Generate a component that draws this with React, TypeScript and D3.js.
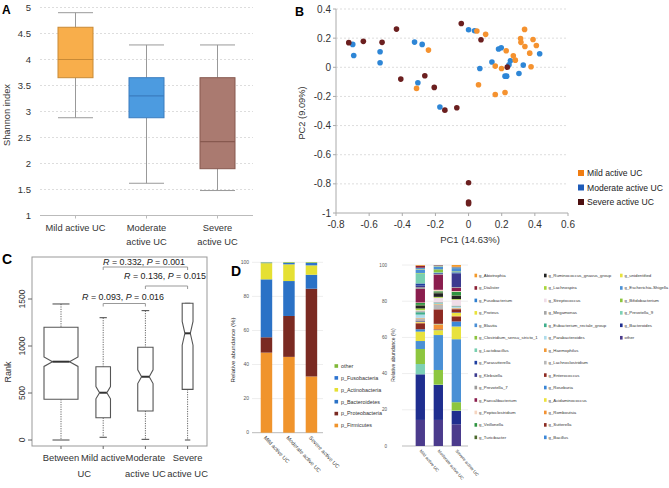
import React from 'react';
import * as d3 from 'd3';

const W = 669;
const H = 488;
const FONT = "'Liberation Sans', Arial, sans-serif";

// ---------- A: Shannon index ----------
const shannonGroups = ['Mild active UC', 'Moderate active UC', 'Severe active UC'];
const shannonLabels = [['Mild active UC'], ['Moderate', 'active UC'], ['Severe', 'active UC']];
const shannonMin = [2.88, 1.62, 1.48];
const shannonQ1 = [3.65, 2.88, 1.9];
const shannonMedian = [4.0, 3.3, 2.42];
const shannonQ3 = [4.62, 3.65, 3.65];
const shannonMax = [4.9, 4.28, 4.28];
const shannonTicks = [1, 1.5, 2, 2.5, 3, 3.5, 4, 4.5, 5];
const shannonFill = ['#F8AE4B', '#4C9BE0', '#AA7A70'];
const shannonStroke = ['#C98A35', '#3A7DBF', '#87594F'];

// ---------- B: PCA ----------
const pcaGroups = ['Mild active UC', 'Moderate active UC', 'Severe active UC'];
const pcaMild = [
  [0.05, 0.249], [0.103, 0.226], [-0.242, 0.118], [-0.314, -0.145], [0.06, -0.12],
  [0.161, -0.187], [0.22, -0.173], [0.161, 0.008], [0.199, -0.008], [0.227, 0.113],
  [0.27, 0.079], [0.282, 0.049], [0.314, 0.198], [0.316, 0.171], [0.338, 0.26],
  [0.34, 0.143], [0.369, 0.097], [0.389, 0.191], [0.409, 0.15], [0.377, 0.004],
];
const pcaModerate = [
  [-0.699, 0.157], [-0.693, 0.081], [-0.534, 0.107], [-0.534, 0.031], [-0.326, 0.173],
  [-0.28, 0.157], [-0.306, -0.106], [-0.173, -0.273], [0, 0.258], [0.036, 0.251],
  [0.068, -0.008], [0.141, 0.036], [0.181, 0.125], [0.197, 0.134], [0.22, -0.061],
  [0.23, -0.061], [0.244, 0.017], [0.252, 0.045], [0.304, -0.043], [0.33, 0.015],
  [0.429, 0.093],
];
const pcaSevere = [
  [-0.723, 0.169], [-0.635, 0.178], [-0.522, 0.171], [-0.435, 0.262], [-0.409, -0.081],
  [-0.264, -0.058], [-0.207, -0.138], [-0.143, -0.294], [-0.071, -0.278], [-0.044, 0.301],
  [0.075, 0.189], [0.234, 0.001], [0, -0.792], [0, -0.924], [0, -0.936],
];
const pcaXTicks = [-0.8, -0.6, -0.4, -0.2, 0, 0.2, 0.4, 0.6];
const pcaYTicks = [0.4, 0.2, 0, -0.2, -0.4, -0.6, -0.8, -1];
const pcaPointColors = ['#F5922F', '#2E86D6', '#6B1F1F'];
const pcaLegendColors = ['#F07D12', '#1E5BB8', '#4D1010'];

// ---------- C: ANOSIM rank ----------
const rankGroups = ['Between', 'Mild active UC', 'Moderate active UC', 'Severe active UC'];
const rankLabels = [['Between'], ['Mild active', 'UC'], ['Moderate', 'active UC'], ['Severe', 'active UC']];
const rankPairs = [1035, 190, 210, 105];
const rankMin = [0, 29, 7, 0];
const rankQ1 = [433, 237, 309, 539];
const rankMedian = [833, 503, 673, 1135];
const rankQ3 = [1199, 780, 986, 1454];
const rankMax = [1447, 1301, 1376, 1454];
const rankNotch = [50, 65, 73, 127];
const rankTicks = [0, 500, 1000, 1500];
const bracketFrom = [1, 2, 1];
const bracketTo = [2, 3, 3];
const bracketR = ['0.093', '0.136', '0.332'];
const bracketP = ['0.016', '0.015', '0.001'];

// ---------- D left: phylum ----------
const dGroups = ['Mild active UC', 'Moderate active UC', 'Severe active UC'];
const phylumNames = ['other', 'p_Fusobacteria', 'p_Actinobacteria', 'p_Bacteroidetes', 'p_Proteobacteria', 'p_Firmicutes'];
const phylumColors = ['#80B838', '#2E74D0', '#E5E033', '#2B72C6', '#7A2A22', '#F0942C'];
const phylumMild = [0.2, 0.3, 9.5, 34, 9, 47];
const phylumModerate = [0.4, 0.8, 9.8, 20.5, 24, 44.5];
const phylumSevere = [0.4, 1.4, 5.5, 8.2, 51.5, 33];
const pctTicks = [0, 20, 40, 60, 80, 100];

// ---------- D right: genus ----------
const genusNames = [
  'g_Abiotrophia', 'g_Dialister', 'g_Fusobacterium', 'g_Proteus', 'g_Blautia',
  'g_Clostridium_sensu_stricto_1', 'g_Lactobacillus', 'g_Parasutterella', 'g_Klebsiella', 'g_Prevotella_7',
  'g_Faecalibacterium', 'g_Peptoclostridium', 'g_Veillonella', 'g_Turicibacter',
  'g_Ruminococcus_gnavus_group', 'g_Lachnospira', 'g_Streptococcus', 'g_Megamonas', 'g_Eubacterium_rectale_group',
  'g_Parabacteroides', 'g_Haemophilus', 'g_Lachnoclostridium', 'g_Enterococcus', 'g_Roseburia',
  'g_Acidaminococcus', 'g_Romboutsia', 'g_Sutterella', 'g_Bacillus',
  'g_unidentified', 'g_Escherichia-Shigella', 'g_Bifidobacterium', 'g_Prevotella_9', 'g_Bacteroides', 'other',
];
const genusColors = [
  '#F39A2B', '#8B2035', '#2F7FD0', '#E9E23A', '#4A8FD6',
  '#8CC43F', '#78CFB0', '#1E3FA0', '#3B3A8F', '#9A9A9A',
  '#8A1E4E', '#F6D5C0', '#2E9440', '#4D6A2E',
  '#222222', '#A8D63A', '#F0DDE8', '#A5A5A5', '#3FAE8C',
  '#AEDCEB', '#F29A38', '#B8B8B8', '#8E2A22', '#3A86D6',
  '#EDE33E', '#F39233', '#8B2B22', '#3D88D8',
  '#E8E23E', '#4A90D5', '#8DC63F', '#7DD0B5', '#1F2E8F', '#4B3B8C',
];
const genusMild = [
  0.4, 1.1, 0.6, 0.3, 2.0, 0.3, 5.5, 1.2, 0.8, 1.0, 7.5, 0.3, 1.0, 0.5,
  1.5, 1.0, 0.5, 0.6, 1.3, 1.8, 0.3, 1.2, 0.4, 0.4, 0.3, 0.4, 3.3, 1.3,
  5.2, 4.4, 8.3, 5.7, 25.2, 14.4,
];
const genusModerate = [
  0.1, 0.2, 0.3, 0.2, 1.6, 1.6, 0.4, 0.3, 0.3, 0.3, 8.4, 0.8, 0.6, 0.5,
  2.0, 0.5, 2.4, 0.4, 0.3, 0.4, 0.3, 2.6, 8.0, 0.2, 0.2, 2.6, 0.3, 0.2,
  2.7, 19.3, 8.1, 0.2, 19.3, 14.4,
];
const genusSevere = [
  1.0, 0.2, 0.3, 0.2, 1.8, 0.3, 0.3, 0.6, 7.5, 0.4, 1.8, 0.4, 1.9, 0.3,
  1.8, 0.4, 3.2, 0.5, 0.3, 0.5, 0.3, 0.4, 1.8, 0.3, 1.6, 0.3, 2.8, 2.8,
  7.0, 34.8, 4.6, 0.2, 7.4, 12.0,
];
const genusLegendColumns = [14, 14, 6];

function PanelA() {
  const y = d3.scaleLinear().domain([1, 5]).range([215.5, 7.5]);
  const x = d3.scaleBand().domain(shannonGroups).range([40, 253]);
  const bw = 35;
  return (
    <g>
      <text x={2} y={13.5} fontSize={12} fontWeight="bold">A</text>
      {shannonTicks.slice(1).map((t) => (
        <line key={t} x1={40} x2={253} y1={y(t)} y2={y(t)} stroke="#ddd" strokeDasharray="2,2" />
      ))}
      <line x1={40} x2={253} y1={y(1)} y2={y(1)} stroke="#bbb" />
      {shannonTicks.map((t) => (
        <text key={t} x={31} y={y(t)} dy="0.35em" textAnchor="end" fontSize={9.5} fill="#333">{t}</text>
      ))}
      <text transform={`translate(10,115) rotate(-90)`} textAnchor="middle" fontSize={9.3} fill="#333">Shannon index</text>
      {shannonGroups.map((g, i) => {
        const cx = (x(g) as number) + x.bandwidth() / 2;
        return (
          <g key={g}>
            <line x1={cx} x2={cx} y1={y(1)} y2={y(1) + 3} stroke="#bbb" />
            <line x1={cx} x2={cx} y1={y(shannonMax[i])} y2={y(shannonQ3[i])} stroke="#999" />
            <line x1={cx} x2={cx} y1={y(shannonQ1[i])} y2={y(shannonMin[i])} stroke="#999" />
            <line x1={cx - bw / 2} x2={cx + bw / 2} y1={y(shannonMax[i])} y2={y(shannonMax[i])} stroke="#999" />
            <line x1={cx - bw / 2} x2={cx + bw / 2} y1={y(shannonMin[i])} y2={y(shannonMin[i])} stroke="#999" />
            <rect x={cx - bw / 2} y={y(shannonQ3[i])} width={bw} height={y(shannonQ1[i]) - y(shannonQ3[i])}
              fill={shannonFill[i]} stroke={shannonStroke[i]} />
            <line x1={cx - bw / 2} x2={cx + bw / 2} y1={y(shannonMedian[i])} y2={y(shannonMedian[i])} stroke={shannonStroke[i]} strokeWidth={1.2} />
            {shannonLabels[i].map((l, j) => (
              <text key={j} x={cx} y={231 + j * 14} textAnchor="middle" fontSize={9.3} fill="#333">{l}</text>
            ))}
          </g>
        );
      })}
    </g>
  );
}

function PanelB() {
  const x = d3.scaleLinear().domain([-0.8, 0.6]).range([336, 568]);
  const y = d3.scaleLinear().domain([-1, 0.4]).range([213, 9]);
  const sets = [pcaMild, pcaModerate, pcaSevere];
  const order = [1, 0, 2];
  return (
    <g>
      <text x={295} y={16} fontSize={12.5} fontWeight="bold">B</text>
      {pcaYTicks.slice(0, -1).map((t) => (
        <line key={t} x1={336} x2={568} y1={y(t)} y2={y(t)} stroke="#ddd" strokeDasharray="2,2" />
      ))}
      <line x1={336} x2={568} y1={y(-1)} y2={y(-1)} stroke="#aaa" />
      <line x1={336} x2={336} y1={y(0.4)} y2={y(-1)} stroke="#aaa" />
      {pcaYTicks.map((t) => (
        <g key={t}>
          <line x1={333} x2={336} y1={y(t)} y2={y(t)} stroke="#aaa" />
          <text x={331} y={y(t)} dy="0.35em" textAnchor="end" fontSize={10} fill="#333">{t}</text>
        </g>
      ))}
      {pcaXTicks.map((t) => (
        <g key={t}>
          <line x1={x(t)} x2={x(t)} y1={y(-1)} y2={y(-1) + 3} stroke="#aaa" />
          <text x={x(t)} y={228} textAnchor="middle" fontSize={10} fill="#333">{t}</text>
        </g>
      ))}
      <text x={470} y={243} textAnchor="middle" fontSize={9.5} fill="#333">PC1 (14.63%)</text>
      <text transform={`translate(305,113) rotate(-90)`} textAnchor="middle" fontSize={9.3} fill="#333">PC2 (9.09%)</text>
      {order.map((gi) => (
        <g key={gi}>
          {sets[gi].map((p, k) => (
            <circle key={k} cx={x(p[0])} cy={y(p[1])} r={2.8} fill={pcaPointColors[gi]} />
          ))}
        </g>
      ))}
      {pcaGroups.map((g, i) => (
        <g key={g}>
          <rect x={578} y={173 + i * 14.5 - 3} width={6} height={6} fill={pcaLegendColors[i]} />
          <text x={587} y={173 + i * 14.5} dy="0.35em" fontSize={8.6} fill="#222">{g}</text>
        </g>
      ))}
    </g>
  );
}

function PanelC() {
  const y = d3.scaleLinear().domain([0, 1500]).range([440, 299]);
  const x = d3.scalePoint().domain(rankGroups).range([61, 187.6]);
  const maxHalf = 17;
  const nMax = d3.max(rankPairs) as number;
  const bLineY = [303.5, 286, 267];
  const bTextY = [300, 278.5, 264.5];
  const bTextX = [123, 165, 144];
  return (
    <g>
      <text x={2} y={264} fontSize={14} fontWeight="bold">C</text>
      <rect x={32} y={257} width={175} height={189} fill="none" stroke="#999" />
      {rankTicks.map((t) => (
        <g key={t}>
          <line x1={28} x2={32} y1={y(t)} y2={y(t)} stroke="#666" />
          <text transform={`translate(25,${y(t)}) rotate(-90)`} textAnchor="middle" fontSize={8.5} fill="#333">{t}</text>
        </g>
      ))}
      <text transform={`translate(11,372) rotate(-90)`} textAnchor="middle" fontSize={9} fill="#333">Rank</text>
      {rankGroups.map((g, i) => {
        const cx = x(g) as number;
        const hw = maxHalf * Math.sqrt(rankPairs[i] / nMax);
        const q1 = y(rankQ1[i]);
        const q3 = y(rankQ3[i]);
        const md = y(rankMedian[i]);
        const nt = y(rankMedian[i] + rankNotch[i]);
        const nb = y(rankMedian[i] - rankNotch[i]);
        const path = [
          [cx - hw, q1], [cx - hw, nb], [cx - hw / 2, md], [cx - hw, nt], [cx - hw, q3],
          [cx + hw, q3], [cx + hw, nt], [cx + hw / 2, md], [cx + hw, nb], [cx + hw, q1],
        ];
        return (
          <g key={g}>
            <line x1={cx} x2={cx} y1={y(rankMax[i])} y2={q3} stroke="#666" strokeDasharray="1.2,1.2" />
            <line x1={cx} x2={cx} y1={q1} y2={y(rankMin[i])} stroke="#666" strokeDasharray="1.2,1.2" />
            <line x1={cx - hw / 2} x2={cx + hw / 2} y1={y(rankMax[i])} y2={y(rankMax[i])} stroke="#444" />
            <line x1={cx - hw / 2} x2={cx + hw / 2} y1={y(rankMin[i])} y2={y(rankMin[i])} stroke="#444" />
            <path d={d3.line()(path as [number, number][]) + 'Z'} fill="#fff" stroke="#555" strokeWidth={1.1} />
            <line x1={cx - hw / 2} x2={cx + hw / 2} y1={md} y2={md} stroke="#333" strokeWidth={2} />
            <line x1={cx} x2={cx} y1={446} y2={449} stroke="#666" />
            {rankLabels[i].map((l, j) => (
              <text key={j} x={cx + (i === 1 && j === 1 ? -19 : 0)} y={461 + j * 15.5} textAnchor="middle" fontSize={9.4} fill="#333">{l}</text>
            ))}
          </g>
        );
      })}
      {bracketFrom.map((f, k) => {
        const x1 = x(rankGroups[f]) as number;
        const x2 = x(rankGroups[bracketTo[k]]) as number;
        return (
          <g key={k}>
            <path d={`M${x1},${bLineY[k] + 3}V${bLineY[k]}H${x2}V${bLineY[k] + 3}`} fill="none" stroke="#999" />
            <text x={bTextX[k]} y={bTextY[k]} textAnchor="middle" fontSize={8.9} fill="#222">
              <tspan fontStyle="italic">R</tspan> = {bracketR[k]}, <tspan fontStyle="italic">P</tspan> = {bracketP[k]}
            </text>
          </g>
        );
      })}
    </g>
  );
}

function PanelDPhylum() {
  const y = d3.scaleLinear().domain([0, 100]).range([432.7, 262.3]);
  const x = d3.scaleBand().domain(dGroups).range([255.1, 322.8]).paddingInner(0.49).paddingOuter(0.25);
  const vals = [phylumMild, phylumModerate, phylumSevere];
  const rows = dGroups.map((g, i) => {
    const r: any = { group: g };
    phylumNames.forEach((n, k) => (r[n] = vals[i][k]));
    return r;
  });
  const stack = d3.stack().keys([...phylumNames].reverse())(rows);
  return (
    <g>
      <text x={231} y={276} fontSize={14} fontWeight="bold">D</text>
      {pctTicks.map((t) => (
        <g key={t}>
          <line x1={252} x2={323} y1={y(t)} y2={y(t)} stroke={t === 0 ? '#bbb' : '#eee'} />
          <text x={249} y={y(t)} dy="0.35em" textAnchor="end" fontSize={5} fill="#555">{t}</text>
        </g>
      ))}
      <text transform={`translate(235,350) rotate(-90)`} textAnchor="middle" fontSize={6.1} fill="#333">Relative abundance (%)</text>
      {stack.map((s) => (
        <g key={s.key} fill={phylumColors[phylumNames.indexOf(s.key)]}>
          {s.map((d, i) => (
            <rect key={i} x={x(dGroups[i])} y={y(d[1])} width={x.bandwidth()} height={Math.max(0, y(d[0]) - y(d[1]))} />
          ))}
        </g>
      ))}
      {dGroups.map((g) => {
        const cx = (x(g) as number) + x.bandwidth() / 2;
        return (
          <text key={g} transform={`translate(${cx - 3},${438}) rotate(47)`} fontSize={5.4} fill="#333">{g}</text>
        );
      })}
      {phylumNames.map((n, i) => (
        <g key={n}>
          <rect x={334.5} y={366 + i * 11.9 - 1.8} width={3.6} height={3.6} fill={phylumColors[i]} />
          <text x={341} y={366 + i * 11.9} dy="0.35em" fontSize={5.4} fill="#333">{n}</text>
        </g>
      ))}
    </g>
  );
}

function PanelDGenus() {
  const y = d3.scaleLinear().domain([0, 100]).range([446, 265]);
  const x = d3.scaleBand().domain(dGroups).range([410.25, 466.4]).paddingInner(0.483).paddingOuter(0.3);
  const vals = [genusMild, genusModerate, genusSevere];
  const rows = dGroups.map((g, i) => {
    const r: any = { group: g };
    genusNames.forEach((n, k) => (r[n] = vals[i][k]));
    return r;
  });
  const stack = d3.stack().keys([...genusNames].reverse())(rows);
  const colX = [474.5, 544, 620];
  const legend: { name: string; color: string; col: number; row: number }[] = [];
  let idx = 0;
  genusLegendColumns.forEach((count, c) => {
    for (let r = 0; r < count; r++) {
      legend.push({ name: genusNames[idx], color: genusColors[idx], col: c, row: r });
      idx++;
    }
  });
  return (
    <g>
      {pctTicks.map((t) => (
        <g key={t}>
          <line x1={402} x2={468} y1={y(t)} y2={y(t)} stroke={t === 0 ? '#bbb' : '#eee'} />
          <text x={387} y={y(t)} dy="0.35em" textAnchor="end" fontSize={4.6} fill="#555">{t}</text>
        </g>
      ))}
      <text transform={`translate(395,355) rotate(-90)`} textAnchor="middle" fontSize={5} fill="#333">Relative abundance (%)</text>
      {stack.map((s) => (
        <g key={s.key} fill={genusColors[genusNames.indexOf(s.key)]}>
          {s.map((d, i) => (
            <rect key={i} x={x(dGroups[i])} y={y(d[1])} width={x.bandwidth()} height={Math.max(0, y(d[0]) - y(d[1]))} />
          ))}
        </g>
      ))}
      {dGroups.map((g) => {
        const cx = (x(g) as number) + x.bandwidth() / 2;
        return (
          <text key={g} transform={`translate(${cx - 1},${451}) rotate(50)`} fontSize={4.3} fill="#333">{g}</text>
        );
      })}
      {legend.map((l) => (
        <g key={l.name}>
          <rect x={colX[l.col]} y={275.5 + l.row * 12.45 - 1.8} width={2.6} height={3.6} fill={l.color} />
          <text x={colX[l.col] + 4.5} y={275.5 + l.row * 12.45} dy="0.35em" fontSize={4.3} fill="#333">{l.name}</text>
        </g>
      ))}
    </g>
  );
}

export default function App() {
  return (
    <svg width={W} height={H} fontFamily={FONT} style={{ position: 'absolute', left: 0, top: 0, background: '#fff' }}>
      <PanelA />
      <PanelB />
      <PanelC />
      <PanelDPhylum />
      <PanelDGenus />
    </svg>
  );
}
